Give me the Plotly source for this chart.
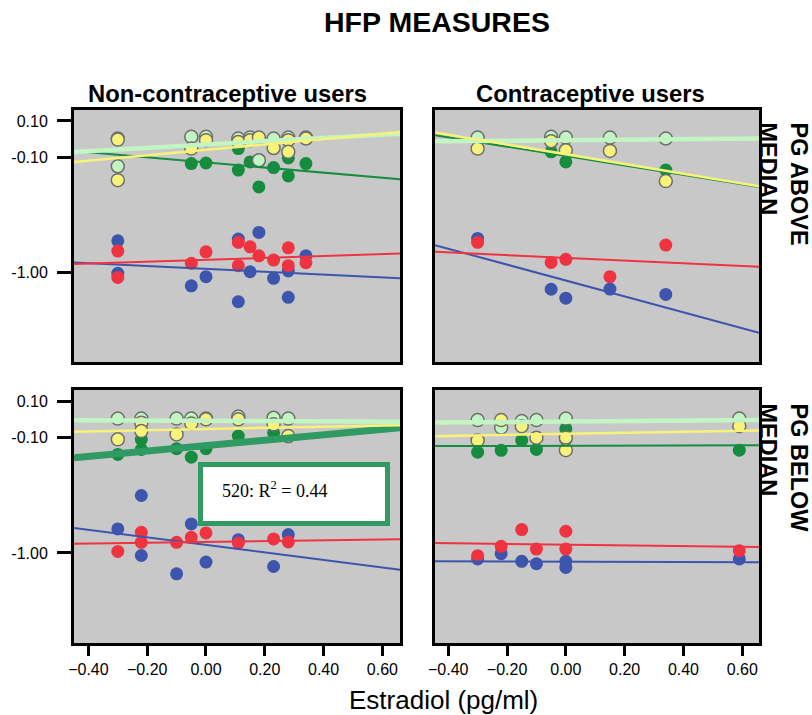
import numpy as np
import plotly.graph_objects as go

# ---- series order used in every panel ----
SERIES = ["blue", "red", "green", "lightgreen", "yellow"]
COLORS = {"blue": "#3d55ad", "red": "#ef3340", "green": "#168c3f",
          "lightgreen": "#c2f5c2", "yellow": "#f7f27a"}

# ---- top-left: Non-contraceptive users, PG above median ----
TL_X_BLUE = [-0.30, -0.30, -0.05, 0.00, 0.11, 0.11, 0.15, 0.18, 0.23, 0.28, 0.28, 0.34]
TL_Y_BLUE = [-0.556, -0.734, -0.802, -0.752, -0.546, -0.889, -0.725, -0.510, -0.761, -0.721, -0.865, -0.638]
TL_X_RED = [-0.30, -0.30, -0.05, 0.00, 0.11, 0.11, 0.15, 0.18, 0.23, 0.28, 0.28, 0.34]
TL_Y_RED = [-0.612, -0.756, -0.679, -0.616, -0.564, -0.692, -0.589, -0.638, -0.661, -0.594, -0.692, -0.676]
TL_X_GREEN = [-0.05, 0.00, 0.11, 0.11, 0.15, 0.18, 0.23, 0.28, 0.28, 0.34]
TL_Y_GREEN = [-0.133, -0.130, -0.051, -0.169, -0.124, -0.261, -0.155, -0.102, -0.201, -0.133]
TL_X_LG = [-0.30, -0.30, -0.05, 0.00, 0.11, 0.15, 0.18, 0.23, 0.28, 0.34]
TL_Y_LG = [0.004, -0.148, 0.013, 0.013, 0.004, 0.009, -0.115, 0.004, 0.009, 0.009]
TL_X_YELLOW = [-0.30, -0.30, -0.05, 0.00, 0.11, 0.15, 0.18, 0.23, 0.28, 0.28, 0.34]
TL_Y_YELLOW = [-0.002, -0.224, -0.051, -0.005, -0.015, -0.005, 0.009, -0.048, -0.005, -0.069, 0.004]

# ---- top-right: Contraceptive users, PG above median ----
TR_X = [-0.30, -0.05, 0.00, 0.15, 0.34]
TR_Y_BLUE = [-0.543, -0.821, -0.870, -0.820, -0.849]
TR_Y_RED = [-0.564, -0.674, -0.657, -0.752, -0.579]
TR_Y_GREEN = [0.009, -0.069, -0.124, -0.060, -0.169]
TR_Y_LG = [0.009, 0.013, 0.009, 0.009, 0.004]
TR_Y_YELLOW = [-0.051, -0.011, -0.060, -0.064, -0.229]

# ---- bottom-left: Non-contraceptive users, PG below median ----
BL_X = [-0.30, -0.22, -0.22, -0.10, -0.05, 0.00, 0.11, 0.23, 0.28]
BL_Y_BLUE = [-0.597, -0.415, -0.742, -0.842, -0.570, -0.778, -0.656, -0.802, -0.628]
BL_Y_RED = [-0.720, -0.616, -0.670, -0.670, -0.643, -0.619, -0.674, -0.652, -0.668]
BL_Y_GREEN = [-0.191, -0.109, -0.164, -0.160, -0.206, -0.160, -0.091, -0.073, -0.095]
BL_X_LG = [-0.30, -0.22, -0.10, -0.05, 0.00, 0.11, 0.23, 0.28]
BL_Y_LG = [0.004, 0.004, 0.004, 0.004, 0.004, 0.015, 0.009, 0.004]
BL_Y_YELLOW = [-0.109, -0.018, -0.064, -0.082, -0.022, 0.000, 0.000, -0.027, -0.091]

# ---- bottom-right: Contraceptive users, PG below median ----
BR_X = [-0.30, -0.22, -0.15, -0.10, 0.00, 0.00, 0.59]
BR_Y_BLUE = [-0.761, -0.732, -0.774, -0.787, -0.774, -0.807, -0.761]
BR_Y_RED = [-0.743, -0.692, -0.601, -0.707, -0.610, -0.707, -0.716]
BR_Y_GREEN = [-0.179, -0.169, -0.115, -0.164, -0.051, -0.109, -0.168]
BR_X_LG = [-0.30, -0.22, -0.15, -0.10, 0.00, 0.59]
BR_Y_LG = [-0.004, -0.045, -0.009, -0.004, 0.004, 0.004]
BR_Y_YELLOW = [-0.115, -0.004, -0.037, -0.100, -0.100, -0.168, -0.037]

# ---- linear fit lines (intercept, slope), series order as SERIES ----
TL_FIT_B0 = [-0.709, -0.660, -0.127, -0.029, -0.058]
TL_FIT_B1 = [-0.078, 0.052, -0.140, 0.090, 0.148]
TR_FIT_B0 = [-0.773, -0.649, -0.092, -0.005, -0.082]
TR_FIT_B1 = [-0.435, -0.074, -0.257, 0.014, -0.267]
BL_FIT_B0 = [-0.684, -0.668, -0.143, -0.008, -0.053]
BL_FIT_B1 = [-0.206, 0.023, 0.148, -0.007, 0.032]
BR_FIT_B0 = [-0.776, -0.683, -0.144, -0.012, -0.079]
BR_FIT_B1 = [-0.005, -0.020, 0.004, 0.013, 0.028]

# highlighted fit (bottom-left, green series)
HIGHLIGHT_LABEL = "520: R<sup>2</sup> = 0.44"

# axis ticks
X_TICKS = [-0.40, -0.20, 0.00, 0.20, 0.40, 0.60]
Y_TICK_POS = [0.10, -0.10, -0.728]
Y_TICK_TEXT = ["0.10", "-0.10", "-1.00"]

COL_TITLES = ["Non-contraceptive users", "Contraceptive users"]
ROW_TITLES = ["PG ABOVE<br>MEDIAN", "PG BELOW<br>MEDIAN"]

FONT = "Liberation Sans, Arial, sans-serif"
W, H = 812, 715

X_RANGE_L = [-0.449, 0.660]
X_RANGE_R = [-0.445, 0.657]
Y_RANGE = [-1.219, 0.160]

panels = {
    "TL": dict(ax="", x={"blue": TL_X_BLUE, "red": TL_X_RED, "green": TL_X_GREEN,
                         "lightgreen": TL_X_LG, "yellow": TL_X_YELLOW},
               y={"blue": TL_Y_BLUE, "red": TL_Y_RED, "green": TL_Y_GREEN,
                  "lightgreen": TL_Y_LG, "yellow": TL_Y_YELLOW},
               b0=TL_FIT_B0, b1=TL_FIT_B1, xr=X_RANGE_L),
    "TR": dict(ax="2", x={s: TR_X for s in SERIES},
               y={"blue": TR_Y_BLUE, "red": TR_Y_RED, "green": TR_Y_GREEN,
                  "lightgreen": TR_Y_LG, "yellow": TR_Y_YELLOW},
               b0=TR_FIT_B0, b1=TR_FIT_B1, xr=X_RANGE_R),
    "BL": dict(ax="3", x={"blue": BL_X, "red": BL_X, "green": BL_X,
                          "lightgreen": BL_X_LG, "yellow": BL_X},
               y={"blue": BL_Y_BLUE, "red": BL_Y_RED, "green": BL_Y_GREEN,
                  "lightgreen": BL_Y_LG, "yellow": BL_Y_YELLOW},
               b0=BL_FIT_B0, b1=BL_FIT_B1, xr=X_RANGE_L),
    "BR": dict(ax="4", x={"blue": BR_X, "red": BR_X, "green": BR_X,
                          "lightgreen": BR_X_LG, "yellow": BR_X},
               y={"blue": BR_Y_BLUE, "red": BR_Y_RED, "green": BR_Y_GREEN,
                  "lightgreen": BR_Y_LG, "yellow": BR_Y_YELLOW},
               b0=BR_FIT_B0, b1=BR_FIT_B1, xr=X_RANGE_R),
}

LINE_W = {"blue": 2, "red": 2, "green": 2, "lightgreen": 4.5, "yellow": 2.5}

fig = go.Figure()

for key, p in panels.items():
    xa, ya = "x" + p["ax"], "y" + p["ax"]
    # points
    for s in SERIES:
        outlined = s in ("lightgreen", "yellow")
        fig.add_trace(go.Scatter(
            x=p["x"][s], y=p["y"][s], mode="markers", xaxis=xa, yaxis=ya,
            marker=dict(size=13, color=COLORS[s],
                        line=dict(color="#6e6e6e" if outlined else COLORS[s],
                                  width=1.5 if outlined else 0)),
            showlegend=False, hoverinfo="skip"))
    # fit lines across the full panel width
    xs = np.array(p["xr"])
    for i, s in enumerate(SERIES):
        highlighted = key == "BL" and s == "green"
        fig.add_trace(go.Scatter(
            x=xs, y=p["b0"][i] + p["b1"][i] * xs, mode="lines",
            xaxis=xa, yaxis=ya,
            line=dict(color="#2f9a62" if highlighted else COLORS[s],
                      width=7 if highlighted else LINE_W[s]),
            showlegend=False, hoverinfo="skip"))

# panel domains (paper fractions)
XD_L = [74 / W, 400 / W]
XD_R = [435 / W, 759 / W]
YD_T = [1 - 362 / H, 1 - 110 / H]
YD_B = [1 - 643 / H, 1 - 390 / H]

axis_common = dict(showgrid=False, zeroline=False, showline=True, linecolor="black",
                   linewidth=3, mirror=True, automargin=False)
tickfont = dict(family=FONT, size=16, color="black")

def xaxis(domain, rng, anchor, ticks):
    d = dict(axis_common, domain=domain, range=rng, anchor=anchor)
    if ticks:
        d.update(tickmode="array", tickvals=X_TICKS, tickformat=".2f", ticks="outside",
                 ticklen=10, tickwidth=3, tickcolor="black", tickfont=tickfont)
    else:
        d.update(showticklabels=False, ticks="")
    return d

def yaxis(domain, anchor, ticks):
    d = dict(axis_common, domain=domain, range=Y_RANGE, anchor=anchor)
    if ticks:
        d.update(tickmode="array", tickvals=Y_TICK_POS, ticktext=Y_TICK_TEXT,
                 ticks="outside", ticklen=14, tickwidth=3, tickcolor="black",
                 ticklabelstandoff=6, tickfont=tickfont)
    else:
        d.update(showticklabels=False, ticks="")
    return d

fig.update_layout(
    template="none",
    width=W, height=H, margin=dict(l=0, r=0, t=0, b=0, pad=0, autoexpand=False),
    paper_bgcolor="white", plot_bgcolor="#c8c8c8",
    xaxis=xaxis(XD_L, X_RANGE_L, "y", False),
    yaxis=yaxis(YD_T, "x", True),
    xaxis2=xaxis(XD_R, X_RANGE_R, "y2", False),
    yaxis2=yaxis(YD_T, "x2", False),
    xaxis3=xaxis(XD_L, X_RANGE_L, "y3", True),
    yaxis3=yaxis(YD_B, "x3", True),
    xaxis4=xaxis(XD_R, X_RANGE_R, "y4", True),
    yaxis4=yaxis(YD_B, "x4", False),
)

def label(text, x, y, size, **kw):
    d = dict(text=text, x=x / W, y=1 - y / H, xref="paper", yref="paper",
             xanchor="center", yanchor="middle", showarrow=False,
             font=dict(family=FONT, size=size, color="black"))
    d.update(kw)
    return d

ann = [label("<b>HFP MEASURES</b>", 437, 22, 28.5)]
for cx, t in zip([227, 590], COL_TITLES):
    ann.append(label(f"<b>{t}</b>", cx, 94, 23.8))
for ty, t in zip([120, 401], ROW_TITLES):
    ann.append(label(f"<b>{t}</b>", 783, ty, 23.5, yanchor="top", textangle=90, align="left"))
ann.append(label("Estradiol (pg/ml)", 443, 700, 26))
ann.append(label(HIGHLIGHT_LABEL, 220, 489, 18, xanchor="left",
                 font=dict(family="Liberation Serif, Times New Roman, serif", size=18,
                           color="black")))
fig.update_layout(annotations=ann)

fig.add_shape(type="rect", xref="paper", yref="paper",
              x0=200.5 / W, x1=387.5 / W, y0=1 - 523.5 / H, y1=1 - 464.5 / H,
              line=dict(color="#2f9a62", width=5), fillcolor="white", layer="above")

fig.write_html("out.html")
